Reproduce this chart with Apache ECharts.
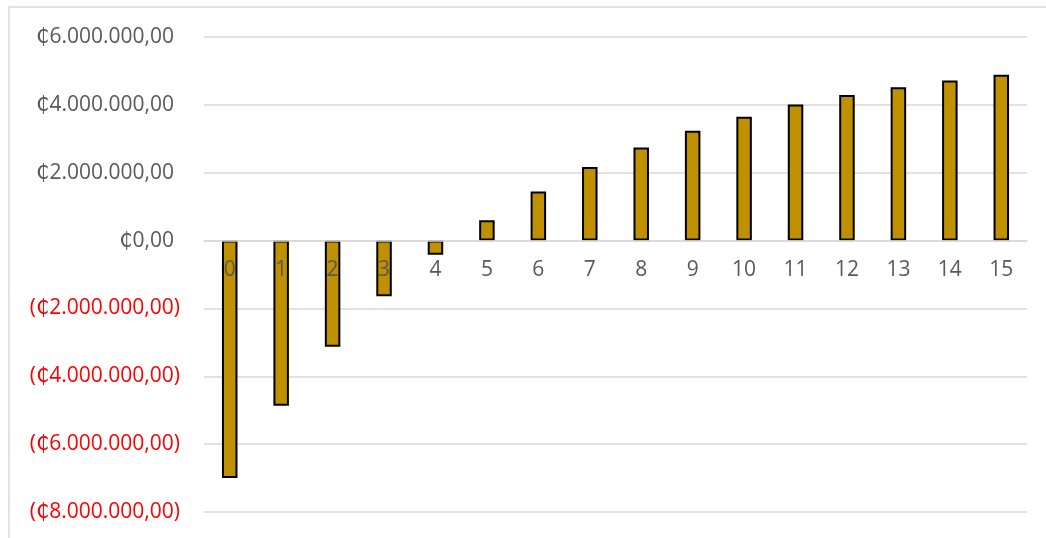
<!DOCTYPE html>
<html>
<head>
<meta charset="utf-8">
<script src="https://cdn.jsdelivr.net/npm/echarts@6/dist/echarts.min.js"></script>
<style>
  html, body { margin: 0; padding: 0; background: #fff; }
  #chart { width: 1046px; height: 538px; }
</style>
</head>
<body>
<div id="chart"></div>
<script>
// Cash flow per period (colones)
const periods = ['0','1','2','3','4','5','6','7','8','9','10','11','12','13','14','15'];
const cashFlow = [-7000000, -4870000, -3130000, -1640000, -420000, 600000, 1450000, 2170000,
                  2740000, 3240000, 3650000, 4010000, 4290000, 4520000, 4720000, 4890000];
const yMin = -8000000;
const yMax = 6000000;
const yStep = 2000000;

const gridTop = 37;
const gridBottom = 26;
const plotHeight = 538 - gridTop - gridBottom;
// distance from the bottom of the plot up to the zero line, so the period labels sit under it
const zeroOffset = plotHeight * (0 - yMin) / (yMax - yMin);

const font = '"Open Sans", "DejaVu Sans", sans-serif';

function colones(v) {
  const abs = Math.abs(v);
  const whole = Math.floor(abs).toString().replace(/\B(?=(\d{3})+(?!\d))/g, '.');
  const txt = '\u20B5' + whole + ',00';
  return v < 0 ? '{neg|(' + txt + ')}' : '{pos|' + txt + '}';
}

const chart = echarts.init(document.getElementById('chart'), null, { renderer: 'canvas' });
chart.setOption({
  animation: false,
  backgroundColor: '#ffffff',
  textStyle: { fontFamily: font },
  grid: { left: 204, right: 19, top: gridTop, bottom: gridBottom, containLabel: false, outerBoundsMode: 'none' },
  graphic: [
    { type: 'line', shape: { x1: 9, y1: 7, x2: 1046, y2: 7 }, style: { stroke: '#d9d9d9', lineWidth: 1.5 }, silent: true },
    { type: 'line', shape: { x1: 9, y1: 7, x2: 9, y2: 538 }, style: { stroke: '#d9d9d9', lineWidth: 1.5 }, silent: true }
  ],
  xAxis: {
    type: 'category',
    data: periods,
    z: 10,
    offset: -zeroOffset,
    axisLine: { show: true, onZero: false, lineStyle: { color: '#d9d9d9', width: 1.5 } },
    axisTick: { show: false },
    axisLabel: {
      color: '#595959',
      fontSize: 21,
      margin: 19,
      fontFamily: font
    }
  },
  yAxis: {
    type: 'value',
    min: yMin,
    max: yMax,
    interval: yStep,
    axisLine: { show: false },
    axisTick: { show: false },
    splitLine: { lineStyle: { color: '#d9d9d9', width: 1.5 } },
    axisLabel: {
      margin: 24,
      formatter: colones,
      rich: {
        pos: { color: '#595959', fontSize: 21, padding: [0, 6, 0, 0], fontFamily: font },
        neg: { color: '#ff0000', fontSize: 21, fontFamily: font }
      }
    }
  },
  series: [{
    type: 'bar',
    data: cashFlow,
    barWidth: 15.5,
    itemStyle: { color: '#bf9000', borderColor: '#000000', borderWidth: 2 }
  }]
});
</script>
</body>
</html>
